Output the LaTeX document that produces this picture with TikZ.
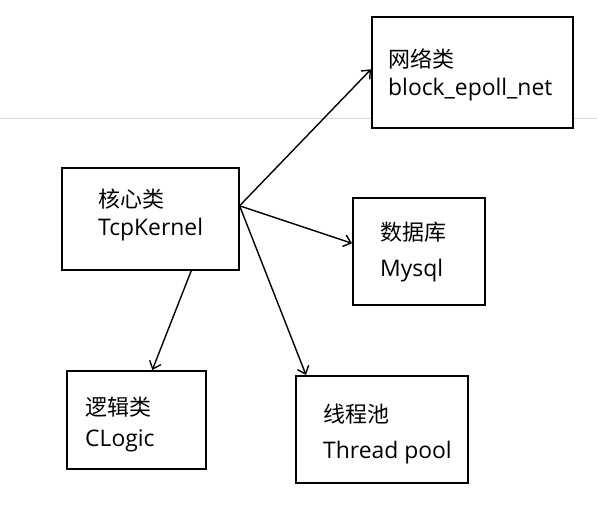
\documentclass[tikz,border=0pt]{standalone}
\usepackage{fontspec}
\setmainfont{Open Sans}[Scale=1.04]
\newfontfamily\cjk{Noto Sans CJK SC}
\usetikzlibrary{arrows.meta,positioning}
\tikzstyle{arrow} = [-{Straight Barb[length=7pt,width=12pt]}, line width=1.4pt]
\tikzstyle{classBox} = [shape = rectangle, draw, line width=1.6pt, fill=white, anchor=north west, inner sep=0pt]
\tikzstyle{classText} = [align=left, inner sep=0pt, font=\fontsize{22}{28}\selectfont]
\tikzstyle{ruleLine} = [draw=black!15, line width=1pt]

\begin{document}
\begin{tikzpicture}[x=1pt, y=-1pt]
			\useasboundingbox (0,0) rectangle (597,530);
			\draw[ruleLine] (0,118) -- (597,118);
			% boxes
			\node (core) at (61,167) [classBox, minimum width=177pt, minimum height=102pt] {};
			\node (net) at (371,16) [classBox, minimum width=201pt, minimum height=111pt] {};
			\node (db) at (352,197) [classBox, minimum width=132pt, minimum height=107pt] {};
			\node (logic) at (66,370) [classBox, minimum width=139pt, minimum height=98pt] {};
			\node (pool) at (295,375) [classBox, minimum width=172pt, minimum height=107pt] {};
			% texts
			\node (coreText) [classText, below right = 22pt and 37pt of core.north west] {
				{\cjk 核心类}\\TcpKernel
			};
			\node (netText) [classText, below right = 33pt and 17pt of net.north west] {
				{\cjk 网络类}\\block\_epoll\_net
			};
			\node (dbText) [classText, below right = 25pt and 28pt of db.north west] {
				{\cjk 数据库}\\[8pt]Mysql
			};
			\node (logicText) [classText, below right = 27pt and 19pt of logic.north west] {
				{\cjk 逻辑类}\\[3pt]CLogic
			};
			\node (poolText) [classText, below right = 29pt and 28pt of pool.north west] {
				{\cjk 线程池}\\[8pt]Thread pool
			};
			% links
			\draw[arrow] ([yshift=13pt]core.east) -- ([yshift=3pt]net.west);
			\draw[arrow] ([yshift=13pt]core.east) -- ([yshift=8pt]db.west);
			\draw[arrow] ([yshift=13pt]core.east) -- ([xshift=11pt]pool.north west);
			\draw[arrow] ([xshift=41pt]core.south) -- ([xshift=16pt]logic.north);
\end{tikzpicture}
\end{document}
